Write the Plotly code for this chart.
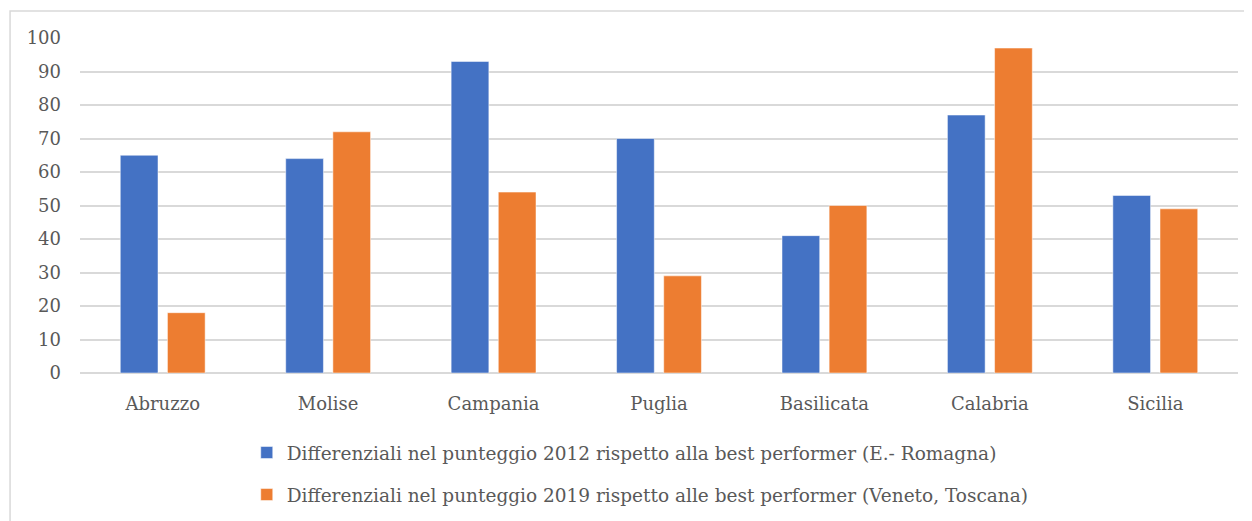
import plotly.graph_objects as go

regions = ["Abruzzo", "Molise", "Campania", "Puglia", "Basilicata", "Calabria", "Sicilia"]
diff_2012 = [65, 64, 93, 70, 41, 77, 53]
diff_2019 = [18, 72, 54, 29, 50, 97, 49]

name_2012 = "Differenziali nel punteggio 2012 rispetto alla best performer (E.- Romagna)"
name_2019 = "Differenziali nel punteggio 2019 rispetto alle best performer (Veneto, Toscana)"

text_color = "#595959"
font_family = "DejaVu Serif"

fig = go.Figure()

fig.add_trace(go.Bar(
    x=regions, y=diff_2012, name=name_2012,
    marker=dict(color="#4472C4", line=dict(color="#ffffff", width=0.5)),
    legendgroup="a",
))
fig.add_trace(go.Bar(
    x=regions, y=diff_2019, name=name_2019,
    marker=dict(color="#ED7D31", line=dict(color="#ffffff", width=0.5)),
    legendgroup="b",
))

# the page body adds an 8px offset, so margins are shifted to match
fig.update_layout(
    width=1252,
    height=521,
    margin=dict(l=72, r=22, t=30, b=156),
    paper_bgcolor="white",
    plot_bgcolor="white",
    barmode="group",
    bargap=0.43,
    bargroupgap=0.2,
    font=dict(family=font_family, size=18, color=text_color),
    legend=dict(
        orientation="v",
        x=0.144, xanchor="left",
        y=-0.182, yanchor="top",
        traceorder="grouped",
        tracegroupgap=15,
        font=dict(family=font_family, size=18.5, color=text_color),
    ),
    xaxis=dict(
        showgrid=False,
        showline=False,
        ticks="",
        ticklabelstandoff=18,
        tickfont=dict(size=18),
    ),
    yaxis=dict(
        range=[0, 100],
        dtick=10,
        showgrid=True,
        gridcolor="#d9d9d9",
        gridwidth=1.5,
        zeroline=True,
        zerolinecolor="#d9d9d9",
        zerolinewidth=1.5,
        ticks="",
        ticklabelstandoff=18,
        tickfont=dict(size=18),
    ),
    shapes=[
        go.layout.Shape(
            type="rect",
            xref="paper", yref="paper",
            x0=-0.0604, y0=-0.6, x1=1.2, y1=1.0806,
            line=dict(color="#d9d9d9", width=1.5),
            fillcolor="rgba(255, 255, 255, 0)",
            layer="below",
        )
    ],
)

fig.write_html("out.html")
